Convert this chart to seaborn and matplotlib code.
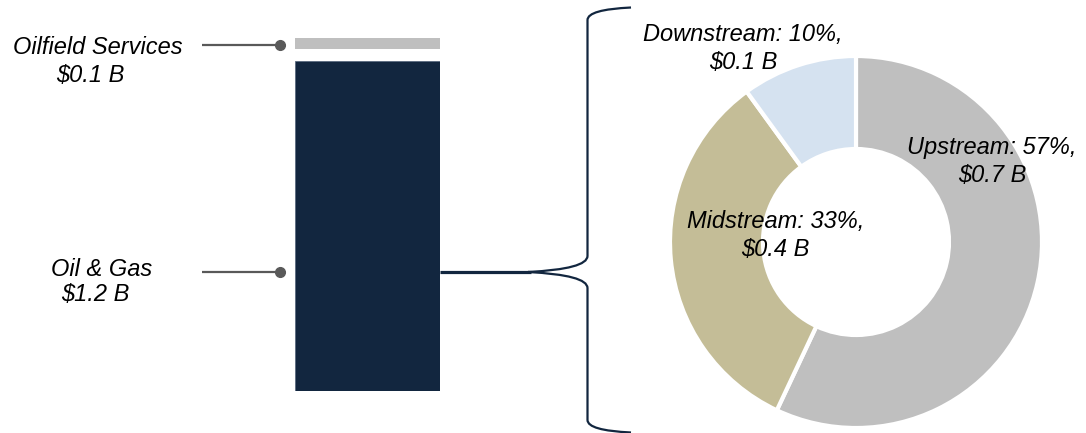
import matplotlib
matplotlib.use("Agg")
import matplotlib.pyplot as plt
import seaborn as sns
import pandas as pd
from matplotlib.path import Path
from matplotlib.patches import PathPatch

# ---------------- data ----------------
bar_categories = ["Oil & Gas", "Oilfield Services"]
bar_heights = [1.2, 0.04]          # drawn heights of the stacked segments ($B)
bar_value_labels = ["$1.2 B", "$0.1 B"]

segment_names = ["Upstream", "Midstream", "Downstream"]
segment_shares = [57, 33, 10]
segment_value_labels = ["$0.7 B", "$0.4 B", "$0.1 B"]

# ---------------- style ----------------
sns.set_style("white")
plt.rcParams["font.family"] = ["Liberation Sans", "DejaVu Sans"]

NAVY = "#12263F"
GRAY = "#BFBFBF"
TAN = "#C4BD97"
LIGHTBLUE = "#D5E2F0"
LEADER = "#595959"
FS = 17

W, H = 1086, 433
fig = plt.figure(figsize=(W / 100, H / 100), dpi=100)


def px_axes(left, top, right, bottom):
    return fig.add_axes([left / W, 1 - bottom / H, (right - left) / W, (bottom - top) / H])


# ---------------- stacked bar ----------------
scale = (391 - 60.7) / bar_heights[0]          # px per unit
gap = (60.7 - 49.3) / scale
ymax = bar_heights[0] + gap + bar_heights[1]
ax_bar = px_axes(295, 391 - ymax * scale, 440, 391)

df_og = pd.DataFrame({"cat": ["stack"], "val": [bar_heights[0]]})
df_os = pd.DataFrame({"cat": ["stack"], "val": [bar_heights[1]]})
sns.barplot(data=df_og, x="cat", y="val", ax=ax_bar, color=NAVY, width=1.0,
            saturation=1, edgecolor="#5A6A80", linewidth=0.6)
sns.barplot(data=df_os, x="cat", y="val", ax=ax_bar, color=GRAY, width=1.0,
            saturation=1, bottom=bar_heights[0] + gap, linewidth=0)
ax_bar.set_xlim(-0.5, 0.5)
ax_bar.set_ylim(0, ymax)
ax_bar.axis("off")

# ---------------- donut ----------------
cx, cy, r_out = 856, 242, 186
ax_pie = px_axes(cx - r_out, cy - r_out, cx + r_out, cy + r_out)
ax_pie.pie(segment_shares, colors=[GRAY, TAN, LIGHTBLUE], startangle=90,
           counterclock=False, radius=1.0,
           wedgeprops=dict(width=0.5, edgecolor="white", linewidth=3.0))
ax_pie.set_xlim(-1, 1)
ax_pie.set_ylim(-1, 1)
ax_pie.set_aspect("equal")
ax_pie.axis("off")

# ---------------- overlay (annotations) ----------------
ax_ov = fig.add_axes([0, 0, 1, 1], zorder=10)
ax_ov.set_xlim(0, W)
ax_ov.set_ylim(H, 0)
ax_ov.axis("off")
ax_ov.patch.set_alpha(0)

# leader lines with dots
for y in (44.5, 272.3):
    ax_ov.plot([202, 280], [y, y], color=LEADER, lw=1.6, solid_capstyle="butt")
    ax_ov.plot([280], [y], marker="o", ms=7, color=LEADER, mec=LEADER)

# connector from bar to bracket
ax_ov.plot([440, 531], [272.3, 272.3], color=NAVY, lw=2.3, solid_capstyle="butt")

# curly bracket
xb = 587.5
verts = [
    (631, 7.5), (xb, 9.5), (xb, 20),
    (xb, 256),
    (xb, 269), (528, 272),
    (xb, 275), (xb, 288),
    (xb, 420),
    (xb, 430.5), (631, 432.5),
]
codes = [Path.MOVETO, Path.CURVE3, Path.CURVE3,
         Path.LINETO,
         Path.CURVE3, Path.CURVE3,
         Path.CURVE3, Path.CURVE3,
         Path.LINETO,
         Path.CURVE3, Path.CURVE3]
ax_ov.add_patch(PathPatch(Path(verts, codes), fill=False, edgecolor=NAVY, lw=1.6))

txt = dict(fontsize=FS, style="italic", color="black", ha="center", va="baseline")

# left labels
ax_ov.text(97.5, 54.3, bar_categories[1], **txt)
ax_ov.text(90, 81.7, bar_value_labels[1], **txt)
ax_ov.text(101.7, 275.7, bar_categories[0], **txt)
ax_ov.text(95, 301, bar_value_labels[0], **txt)

# donut labels
label_pos = {
    "Upstream": (992, 154, 181.7),
    "Midstream": (775.5, 227.7, 256),
    "Downstream": (743, 40.7, 69),
}
for name, share, val in zip(segment_names, segment_shares, segment_value_labels):
    x, y1, y2 = label_pos[name]
    ax_ov.text(x, y1, f"{name}: {share}%,", **txt)
    ax_ov.text(x, y2, val, **txt)

fig.savefig("out.png", dpi=100)
